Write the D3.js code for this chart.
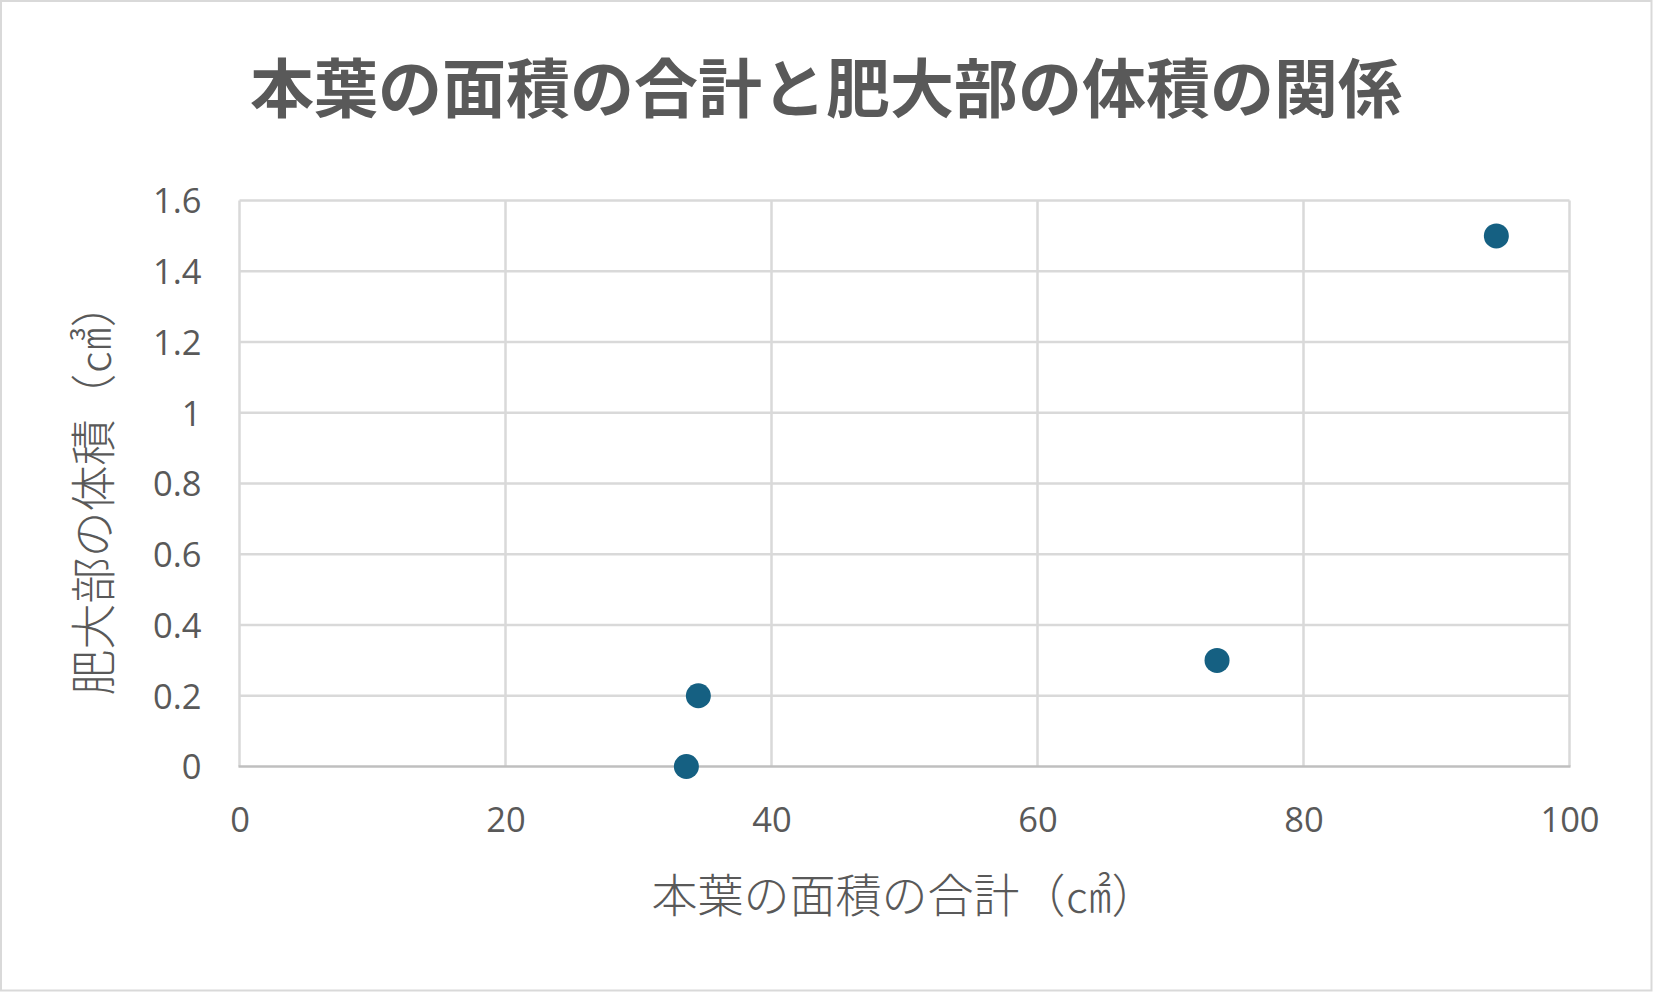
<!DOCTYPE html>
<html>
<head>
<meta charset="utf-8">
<script src="https://cdn.jsdelivr.net/npm/d3@7"></script>
<style>
  html, body { margin: 0; padding: 0; background: #fff; }
  svg { display: block; }
</style>
</head>
<body>
<div id="chart"></div>
<script>
// ---- data ----
const xValues = [33.6, 34.5, 73.5, 94.5];
const yValues = [0, 0.2, 0.3, 1.5];
const xTicks = [0, 20, 40, 60, 80, 100];
const yTicks = [0, 0.2, 0.4, 0.6, 0.8, 1, 1.2, 1.4, 1.6];
const titleText = "本葉の面積の合計と肥大部の体積の関係";
const xTitleText = "本葉の面積の合計（㎠）";
const yTitleText = "肥大部の体積（㎤）";

const W = 1653, H = 993;
const margin = { left: 239.5, right: W - 1569.5, top: 200.5, bottom: H - 766.5 };
const cjk = "'Noto Sans CJK JP', 'Noto Sans CJK SC', sans-serif";
const num = "'Open Sans', 'Liberation Sans', sans-serif";
const textColor = "#595959";
const gridColor = "#d9d9d9";
const pointColor = "#156082";

const svg = d3.select("#chart").append("svg").attr("width", W).attr("height", H);

svg.append("rect").attr("x", 1).attr("y", 1).attr("width", W - 2.5).attr("height", H - 3.5)
  .attr("fill", "#fff").attr("stroke", gridColor).attr("stroke-width", 2);

const x = d3.scaleLinear().domain([0, 100]).range([margin.left, W - margin.right]);
const y = d3.scaleLinear().domain([0, 1.6]).range([H - margin.bottom, margin.top]);

// gridlines
const g = svg.append("g");
g.selectAll("line.h").data(yTicks.filter(d => d !== 0)).enter().append("line")
  .attr("x1", x(0)).attr("x2", x(100))
  .attr("y1", d => y(d)).attr("y2", d => y(d))
  .attr("stroke", gridColor).attr("stroke-width", 2.5);
g.selectAll("line.v").data(xTicks).enter().append("line")
  .attr("y1", y(0)).attr("y2", y(1.6))
  .attr("x1", d => x(d)).attr("x2", d => x(d))
  .attr("stroke", gridColor).attr("stroke-width", 2.5);
// x axis line
g.append("line").attr("x1", x(0) - 1).attr("x2", x(100) + 1)
  .attr("y1", y(0)).attr("y2", y(0))
  .attr("stroke", "#bfbfbf").attr("stroke-width", 2.5);

// axes with d3 axis generators (labels only)
const xAxis = d3.axisBottom(x).tickValues(xTicks).tickSize(0).tickPadding(0).tickFormat(d3.format("d"));
const gx = svg.append("g").attr("transform", `translate(0,${y(0)})`).call(xAxis);
gx.select(".domain").remove();
gx.selectAll("text").attr("y", 65).attr("dy", null)
  .attr("font-family", num).attr("font-size", 34.5).attr("fill", textColor);

const yAxis = d3.axisLeft(y).tickValues(yTicks).tickSize(0).tickPadding(0).tickFormat(d => String(d));
const gy = svg.append("g").attr("transform", `translate(${x(0) - 38},0)`).call(yAxis);
gy.select(".domain").remove();
gy.selectAll("text").attr("x", 0).attr("dy", "0.36em")
  .attr("font-family", num).attr("font-size", 34.5).attr("fill", textColor);

// points
svg.append("g").selectAll("circle").data(xValues.map((v, i) => [v, yValues[i]])).enter()
  .append("circle")
  .attr("cx", d => x(d[0])).attr("cy", d => y(d[1])).attr("r", 12.5)
  .attr("fill", pointColor);

// title
svg.append("text").attr("x", 826).attr("y", 112).attr("text-anchor", "middle")
  .attr("font-family", cjk).attr("font-weight", 700).attr("font-size", 64)
  .attr("fill", textColor).text(titleText);

// axis titles
svg.append("text").attr("x", (x(0) + x(100)) / 2).attr("y", 912).attr("text-anchor", "middle")
  .attr("font-family", cjk).attr("font-weight", 300).attr("font-size", 46)
  .attr("fill", textColor).text(xTitleText);

svg.append("text").attr("transform", `translate(110,${(y(0) + y(1.6)) / 2 + 5}) rotate(-90)`)
  .attr("text-anchor", "middle")
  .attr("font-family", cjk).attr("font-weight", 300).attr("font-size", 46)
  .attr("fill", textColor).text(yTitleText);
</script>
</body>
</html>
